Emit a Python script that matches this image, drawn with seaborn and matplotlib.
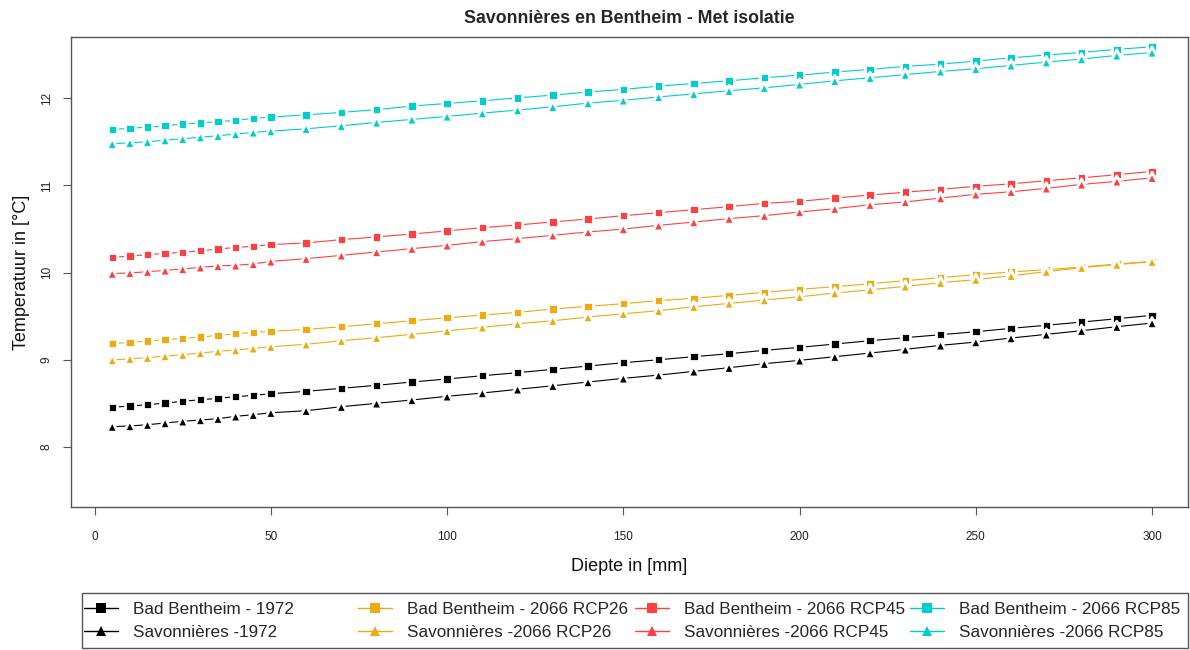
import numpy as np
import pandas as pd
import matplotlib
matplotlib.use("Agg")
import matplotlib.pyplot as plt
import seaborn as sns
from matplotlib.lines import Line2D
from matplotlib.patches import Rectangle

# Depth below the surface (mm)
depth = [5, 10, 15, 20, 25, 30, 35, 40, 45, 50,
         60, 70, 80, 90, 100, 110, 120, 130, 140, 150,
         160, 170, 180, 190, 200, 210, 220, 230, 240, 250,
         260, 270, 280, 290, 300]

# Temperatures (°C) per location and climate scenario
bb_1972 = [8.457, 8.472, 8.487, 8.506, 8.526, 8.544, 8.560, 8.579, 8.594, 8.613,
           8.640, 8.675, 8.709, 8.747, 8.782, 8.819, 8.854, 8.892, 8.930, 8.968,
           9.002, 9.037, 9.071, 9.110, 9.144, 9.182, 9.220, 9.255, 9.289, 9.323,
           9.362, 9.397, 9.434, 9.472, 9.511]
sav_1972 = [8.236, 8.243, 8.258, 8.277, 8.297, 8.312, 8.327, 8.354, 8.372, 8.395,
            8.418, 8.464, 8.503, 8.541, 8.583, 8.621, 8.663, 8.704, 8.747, 8.789,
            8.826, 8.869, 8.911, 8.957, 8.995, 9.037, 9.079, 9.121, 9.167, 9.205,
            9.251, 9.293, 9.335, 9.381, 9.423]
bb_rcp26 = [9.186, 9.202, 9.217, 9.232, 9.247, 9.262, 9.282, 9.300, 9.316, 9.328,
            9.350, 9.380, 9.415, 9.449, 9.483, 9.514, 9.545, 9.583, 9.614, 9.644,
            9.680, 9.706, 9.740, 9.774, 9.809, 9.839, 9.873, 9.908, 9.943, 9.977,
            10.008, 10.034, 10.065, 10.099, 10.129]
sav_rcp26 = [8.998, 9.014, 9.025, 9.045, 9.060, 9.079, 9.099, 9.113, 9.133, 9.152,
             9.179, 9.220, 9.255, 9.293, 9.334, 9.373, 9.415, 9.449, 9.491, 9.529,
             9.564, 9.609, 9.648, 9.686, 9.724, 9.766, 9.804, 9.843, 9.885, 9.920,
             9.965, 10.011, 10.057, 10.092, 10.126]
bb_rcp45 = [10.175, 10.190, 10.205, 10.221, 10.232, 10.251, 10.270, 10.289, 10.302, 10.322,
            10.340, 10.379, 10.409, 10.443, 10.478, 10.516, 10.546, 10.581, 10.615, 10.653,
            10.687, 10.722, 10.756, 10.794, 10.817, 10.855, 10.889, 10.922, 10.954, 10.989,
            11.018, 11.053, 11.087, 11.122, 11.160]
sav_rcp45 = [9.989, 9.997, 10.011, 10.026, 10.042, 10.061, 10.077, 10.084, 10.100, 10.129,
             10.160, 10.198, 10.237, 10.275, 10.313, 10.356, 10.390, 10.428, 10.466, 10.500,
             10.542, 10.580, 10.619, 10.653, 10.695, 10.733, 10.778, 10.810, 10.855, 10.897,
             10.927, 10.966, 11.011, 11.046, 11.087]
bb_rcp85 = [11.641, 11.653, 11.668, 11.683, 11.702, 11.717, 11.729, 11.745, 11.767, 11.782,
            11.808, 11.836, 11.868, 11.908, 11.939, 11.969, 12.003, 12.034, 12.069, 12.100,
            12.137, 12.168, 12.198, 12.233, 12.263, 12.298, 12.329, 12.363, 12.389, 12.424,
            12.462, 12.493, 12.523, 12.558, 12.588]
sav_rcp85 = [11.477, 11.488, 11.499, 11.519, 11.534, 11.553, 11.568, 11.588, 11.607, 11.622,
             11.648, 11.683, 11.721, 11.756, 11.790, 11.828, 11.863, 11.900, 11.943, 11.974,
             12.013, 12.049, 12.084, 12.118, 12.157, 12.198, 12.233, 12.269, 12.306, 12.336,
             12.375, 12.412, 12.447, 12.489, 12.523]

series_names = ["Bad Bentheim - 1972", "Savonnières -1972",
                "Bad Bentheim - 2066 RCP26", "Savonnières -2066 RCP26",
                "Bad Bentheim - 2066 RCP45", "Savonnières -2066 RCP45",
                "Bad Bentheim - 2066 RCP85", "Savonnières -2066 RCP85"]
series_values = [bb_1972, sav_1972, bb_rcp26, sav_rcp26,
                 bb_rcp45, sav_rcp45, bb_rcp85, sav_rcp85]

colors = ["#000000", "#000000", "#EEAA0E", "#EEAA0E",
          "#FF4040", "#FF4040", "#00CDCD", "#00CDCD"]
marker_shapes = ["s", "^"] * 4

df = pd.concat(
    [pd.DataFrame({"depth": depth, "temp": vals, "series": name,
                   "shape": shape})
     for name, vals, shape in zip(series_names, series_values, marker_shapes)],
    ignore_index=True)

palette = dict(zip(series_names, colors))
markers = dict(zip(series_names, marker_shapes))

sns.set_theme(style="white")
plt.rcParams["font.family"] = ["Liberation Sans", "DejaVu Sans"]

fig = plt.figure(figsize=(11.9, 6.5), dpi=100)
ax = fig.add_axes([71 / 1190, 1 - 507 / 650, (1188 - 71) / 1190, (507 - 37) / 650])

sns.lineplot(data=df, x="depth", y="temp", hue="series", palette=palette,
             linewidth=0.8, legend=False, ax=ax, zorder=2)
# squares and triangles drawn separately so each gets its own size
for shape, size in (("s", 46), ("^", 64)):
    sub = df[df["shape"] == shape]
    sns.scatterplot(data=sub, x="depth", y="temp", hue="series",
                    palette={k: v for k, v in palette.items() if k in set(sub["series"])},
                    marker=shape, s=size, edgecolor="white",
                    linewidth=2.0, legend=False, ax=ax, zorder=3)

ax.set_xlim(-6.7, 310.2)
ax.set_ylim(7.315, 12.70)
ax.set_xticks([0, 50, 100, 150, 200, 250, 300])
ax.set_yticks([8, 9, 10, 11, 12])
ax.tick_params(axis="both", direction="out", length=6, width=0.8,
               color="#555555", labelsize=8.5, labelcolor="#222222",
               bottom=True, left=True)
ax.tick_params(axis="x", pad=11)
ax.tick_params(axis="y", pad=7)
for lab in ax.get_yticklabels():
    lab.set_rotation(90)
    lab.set_va("center")
for sp in ax.spines.values():
    sp.set_color("#555555")
    sp.set_linewidth(1.0)

ax.set_xlabel("Diepte in [mm]", fontsize=13, labelpad=11, color="#111111")
ax.set_ylabel("Temperatuur in [°C]", fontsize=13, labelpad=8, color="#111111")
ax.set_title("Savonnières en Bentheim - Met isolatie", fontsize=12.8,
             fontweight="bold", pad=10)

# Legend: four columns of two entries, inside one outer box
fig.add_artist(Rectangle((82 / 1190, 1 - 648 / 650), (1188 - 82) / 1190, (648 - 593) / 650,
                         transform=fig.transFigure, fill=False,
                         edgecolor="#555555", linewidth=1.0))
col_x = [84, 358, 635, 910]
for c, x0 in enumerate(col_x):
    handles = []
    labels = []
    for k in (2 * c, 2 * c + 1):
        handles.append(Line2D([], [], color=colors[k], marker=marker_shapes[k],
                              markersize=6.5, linewidth=1.0, markeredgewidth=0))
        labels.append(series_names[k])
    fig.legend(handles, labels, loc="upper left",
               bbox_to_anchor=(x0 / 1190, 1 - 602 / 650),
               bbox_transform=fig.transFigure, frameon=False,
               fontsize=12.3, handlelength=2.0, handletextpad=0.85,
               labelspacing=0.45, borderaxespad=0, borderpad=0)

fig.savefig("out.png", dpi=100, facecolor="white")
